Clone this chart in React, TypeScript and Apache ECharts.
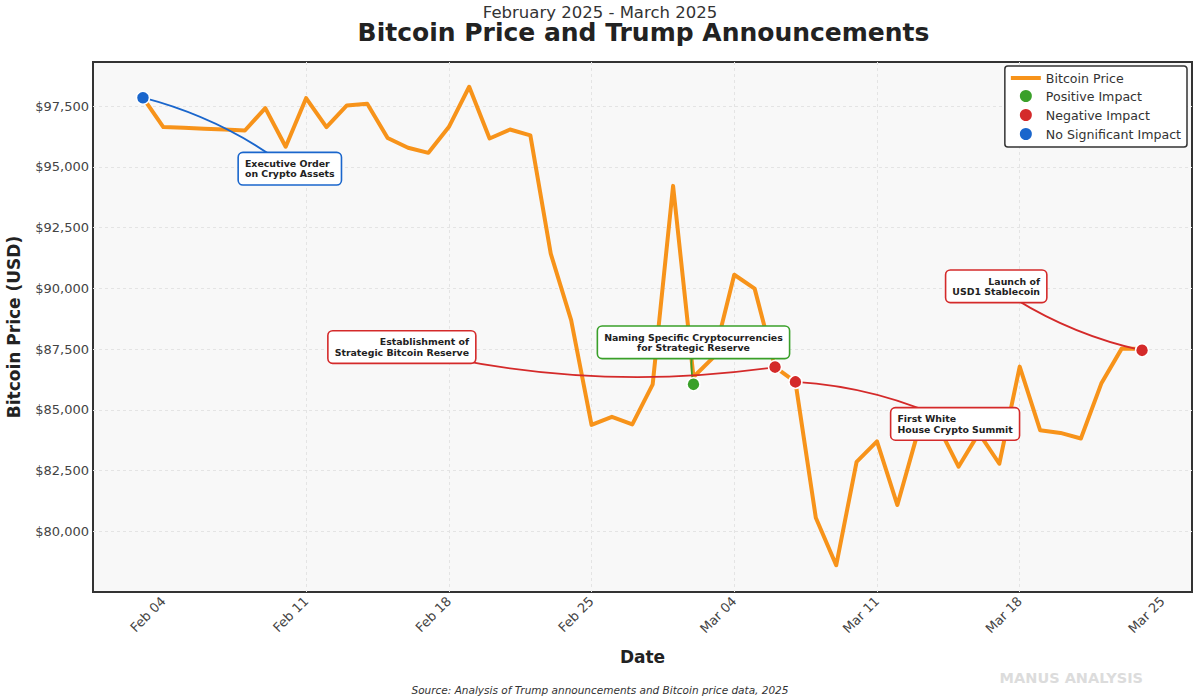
import React, { useEffect, useRef } from "react";
import * as echarts from "echarts";

// ---------------- DATA ----------------
const dates = [
  "2025-02-03", "2025-02-04", "2025-02-05", "2025-02-06", "2025-02-07", "2025-02-08", "2025-02-09",
  "2025-02-10", "2025-02-11", "2025-02-12", "2025-02-13", "2025-02-14", "2025-02-15", "2025-02-16",
  "2025-02-17", "2025-02-18", "2025-02-19", "2025-02-20", "2025-02-21", "2025-02-22", "2025-02-23",
  "2025-02-24", "2025-02-25", "2025-02-26", "2025-02-27", "2025-02-28", "2025-03-01", "2025-03-02",
  "2025-03-03", "2025-03-04", "2025-03-05", "2025-03-06", "2025-03-07", "2025-03-08", "2025-03-09",
  "2025-03-10", "2025-03-11", "2025-03-12", "2025-03-13", "2025-03-14", "2025-03-15", "2025-03-16",
  "2025-03-17", "2025-03-18", "2025-03-19", "2025-03-20", "2025-03-21", "2025-03-22", "2025-03-23",
  "2025-03-24",
];

const prices = [
  97850, 96640, 96610, 96575, 96540, 96500, 97420,
  95830, 97830, 96640, 97530, 97600, 96190, 95790,
  95580, 96640, 98300, 96170, 96540, 96300, 91430,
  88690, 84380, 84710, 84400, 86050, 94220, 86350,
  87180, 90560, 89990, 86760, 86150, 80560, 78600,
  82860, 83700, 81080, 84060, 84330, 82660, 84040,
  82780, 86780, 84160, 84050, 83820, 86080, 87520,
  87500,
];

const eventDates = ["2025-02-03", "2025-03-02", "2025-03-06", "2025-03-07", "2025-03-24"];
const eventPrices = [97850, 86050, 86760, 86150, 87450];
const eventTitles = [
  "Executive Order\non Crypto Assets",
  "Naming Specific Cryptocurrencies\nfor Strategic Reserve",
  "Establishment of\nStrategic Bitcoin Reserve",
  "First White\nHouse Crypto Summit",
  "Launch of\nUSD1 Stablecoin",
];
const eventImpacts = ["none", "positive", "negative", "negative", "negative"];

const impactKeys = ["positive", "negative", "none"];
const impactNames = ["Positive Impact", "Negative Impact", "No Significant Impact"];

const xTickDates = [
  "2025-02-04", "2025-02-11", "2025-02-18", "2025-02-25",
  "2025-03-04", "2025-03-11", "2025-03-18", "2025-03-25",
];
const xTickLabels = ["Feb 04", "Feb 11", "Feb 18", "Feb 25", "Mar 04", "Mar 11", "Mar 18", "Mar 25"];

const yMin = 77500;
const yMax = 99320;
const yStep = 2500;

// ---------------- STYLE / LAYOUT ----------------
const FONT = "DejaVu Sans";
const LINE_COLOR = "#f7931a";
const IMPACT_COLORS: Record<string, string> = {
  positive: "#3aa02a",
  negative: "#d42a2a",
  none: "#1a66cc",
};
// pixel offset from the event point to the label box anchor (outer box edge), and alignment
const LABEL_LAYOUT: [number, number, "left" | "right" | "center"][] = [
  [96, 71, "left"],
  [0, -42, "center"],
  [-300, -20, "right"],
  [96, 42, "left"],
  [-96, -64, "right"],
];
const BOX_FONT_SIZE = 9.4;
const BOX_LINE_H = 10.5;
const BOX_PAD: [number, number] = [5, 6];
const ARC_RAD = 0.1;

const DAY = 86400000;
const ORIGIN = Date.UTC(2025, 1, 4);
function dayIndex(s: string): number {
  const [y, m, d] = s.split("-").map(Number);
  return (Date.UTC(y, m - 1, d) - ORIGIN) / DAY;
}

export default function App() {
  const ref = useRef<HTMLDivElement>(null);

  useEffect(() => {
    if (!ref.current) return;
    const chart = echarts.init(ref.current, undefined, { renderer: "svg" });

    const xs = dates.map(dayIndex);
    const xLo = Math.min(...xs);
    const xHi = Math.max(...xs);
    const pad = (xHi - xLo) * 0.05;
    const tickDays = xTickDates.map(dayIndex);

    const gridLine = {
      show: true,
      showMinLine: false,
      showMaxLine: false,
      lineStyle: { color: "#e4e4e4", width: 1, type: [3, 3] as any },
    };

    const scatterSeries = impactKeys.map((k, ki) => ({
      type: "scatter",
      name: impactNames[ki],
      z: 10,
      symbol: "circle",
      symbolSize: 13,
      itemStyle: { color: IMPACT_COLORS[k], borderColor: "#ffffff", borderWidth: 1.5, opacity: 1 },
      data: eventDates
        .map((d, i) => ({ d, i }))
        .filter((e) => eventImpacts[e.i] === k)
        .map((e) => [dayIndex(e.d), eventPrices[e.i]]),
    }));

    const option: any = {
      animation: false,
      backgroundColor: "#ffffff",
      textStyle: { fontFamily: FONT },
      title: [
        {
          text: "February 2025 - March 2025",
          left: 595,
          top: -0.5,
          textAlign: "center",
          textStyle: { fontFamily: FONT, fontSize: 16.5, lineHeight: 15, fontWeight: "normal", color: "#333" },
        },
        {
          text: "Bitcoin Price and Trump Announcements",
          left: 638.5,
          top: 16.5,
          textAlign: "center",
          textStyle: { fontFamily: FONT, fontSize: 25, lineHeight: 22, fontWeight: "bold", color: "#222" },
        },
      ],
      legend: {
        orient: "vertical",
        right: 13,
        top: 66,
        padding: [5, 6],
        itemWidth: 30,
        itemHeight: 14,
        itemGap: 3,
        backgroundColor: "#ffffff",
        borderColor: "#333",
        borderWidth: 1.5,
        borderRadius: 3,
        textStyle: { fontFamily: FONT, fontSize: 12.6, lineHeight: 14, color: "#333" },
        data: [
          { name: "Bitcoin Price", icon: "path://M0,0 L30,0 L30,4 L0,4 Z" },
          ...impactNames.map((n) => ({ name: n, icon: "circle" })),
        ],
      },
      grid: {
        left: 93,
        right: 8,
        top: 62,
        bottom: 108,
        outerBoundsMode: "none",
        containLabel: false,
        show: true,
        backgroundColor: "#f8f8f8",
        borderColor: "#333",
        borderWidth: 2,
      },
      xAxis: {
        type: "value",
        min: xLo - pad,
        max: xHi + pad,
        name: "Date",
        nameLocation: "middle",
        nameGap: 56,
        nameTextStyle: { fontFamily: FONT, fontSize: 17, fontWeight: "bold", color: "#222" },
        axisLine: { show: false },
        axisTick: { show: false, customValues: tickDays },
        axisLabel: {
          customValues: tickDays,
          rotate: 45,
          margin: 7,
          fontFamily: FONT,
          fontSize: 13,
          color: "#444",
          formatter: (v: number) => {
            const idx = tickDays.findIndex((t) => Math.abs(t - v) < 1e-6);
            return idx >= 0 ? xTickLabels[idx] : "";
          },
        },
        splitLine: gridLine,
      },
      yAxis: {
        type: "value",
        min: yMin,
        max: yMax,
        interval: yStep,
        name: "Bitcoin Price (USD)",
        nameLocation: "middle",
        nameGap: 71,
        nameTextStyle: { fontFamily: FONT, fontSize: 17, fontWeight: "bold", color: "#222" },
        axisLine: { show: false },
        axisTick: { show: false },
        axisLabel: {
          showMinLabel: false,
          showMaxLabel: false,
          margin: 4,
          fontFamily: FONT,
          fontSize: 13,
          color: "#444",
          formatter: (v: number) => "$" + Math.round(v).toLocaleString("en-US"),
        },
        splitLine: gridLine,
      },
      series: [
        {
          type: "line",
          name: "Bitcoin Price",
          z: 2,
          symbol: "none",
          showSymbol: false,
          lineStyle: { color: LINE_COLOR, width: 4, join: "round", cap: "round" },
          itemStyle: { color: LINE_COLOR },
          data: xs.map((x, i) => [x, prices[i]]),
        },
        ...scatterSeries,
      ],
    };

    chart.setOption(option);

    // ---- annotations (boxes + curved connectors) ----
    const canvas = document.createElement("canvas");
    const ctx = canvas.getContext("2d")!;
    ctx.font = `bold ${BOX_FONT_SIZE}px "${FONT}"`;

    const graphics: any[] = [];
    eventDates.forEach((d, i) => {
      const p = chart.convertToPixel({ gridIndex: 0 }, [dayIndex(d), eventPrices[i]]) as number[];
      const [dx, dy, align] = LABEL_LAYOUT[i];
      const tx = p[0] + dx;
      const ty = p[1] + dy;
      const lines = eventTitles[i].split("\n");
      const w = Math.max(...lines.map((l) => ctx.measureText(l).width)) + 2 * BOX_PAD[1];
      const cx = align === "left" ? tx + w / 2 : align === "right" ? tx - w / 2 : tx;
      const cy = ty;
      const color = IMPACT_COLORS[eventImpacts[i]];
      // arc3-style quadratic from box center to the point
      const mx = (cx + p[0]) / 2;
      const my = (cy + p[1]) / 2;
      const ddx = p[0] - cx;
      const ddy = p[1] - cy;
      const cpx = mx - ARC_RAD * ddy;
      const cpy = my + ARC_RAD * ddx;
      graphics.push({
        type: "bezierCurve",
        z: 5,
        silent: true,
        shape: { x1: cx, y1: cy, x2: p[0], y2: p[1], cpx1: cpx, cpy1: cpy },
        style: { stroke: color, lineWidth: 1.8, fill: "none" },
      });
      graphics.push({
        type: "text",
        z: 6,
        silent: true,
        x: tx,
        y: ty,
        style: {
          text: eventTitles[i],
          align,
          verticalAlign: "middle",
          fontFamily: FONT,
          fontSize: BOX_FONT_SIZE,
          fontWeight: "bold",
          lineHeight: BOX_LINE_H,
          fill: "#222",
          backgroundColor: "#ffffff",
          borderColor: color,
          borderWidth: 1.6,
          borderRadius: 4,
          padding: BOX_PAD,
        },
      });
    });

    graphics.push({
      type: "text",
      x: 1143,
      y: 678,
      silent: true,
      style: {
        text: "MANUS ANALYSIS",
        align: "right",
        verticalAlign: "middle",
        fontFamily: FONT,
        fontSize: 14.5,
        fontWeight: "bold",
        fill: "#dcdcdc",
      },
    });
    graphics.push({
      type: "text",
      x: 600,
      y: 690,
      silent: true,
      style: {
        text: "Source: Analysis of Trump announcements and Bitcoin price data, 2025",
        align: "center",
        verticalAlign: "middle",
        fontFamily: FONT,
        fontSize: 10.5,
        fontStyle: "italic",
        fill: "#333",
      },
    });

    chart.setOption({ graphic: graphics });

    return () => chart.dispose();
  }, []);

  return (
    <div
      ref={ref}
      style={{ position: "fixed", left: 0, top: 0, width: 1200, height: 700, background: "#fff" }}
    />
  );
}
